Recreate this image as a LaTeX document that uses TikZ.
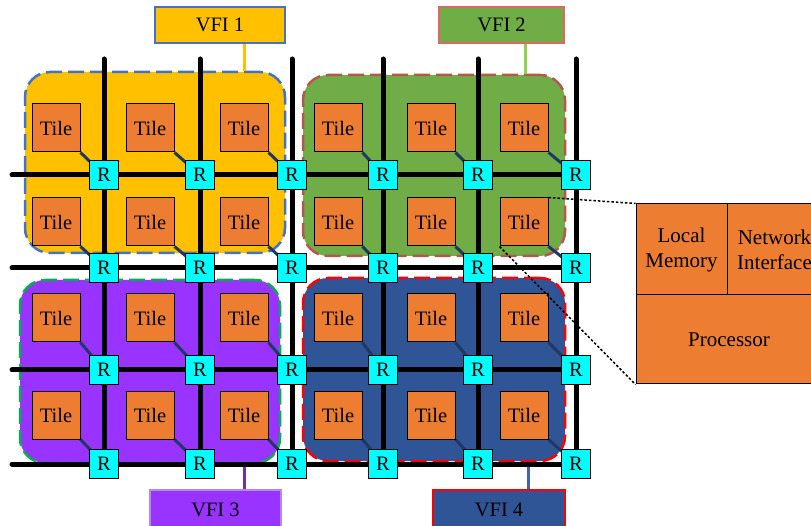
\documentclass[tikz,border=0pt]{standalone}
\usepackage{fontspec}
\setmainfont{Liberation Serif}
\pgfdeclarelayer{regions}
\pgfdeclarelayer{lines}
\pgfsetlayers{regions,lines,main}
\definecolor{tileorange}{HTML}{ED7D31}
\definecolor{vfiyellow}{HTML}{FFC000}
\definecolor{vfigreen}{HTML}{70AD47}
\definecolor{vfipurple}{HTML}{9933FF}
\definecolor{vfiblue}{HTML}{2F5597}
\definecolor{edgeblue}{HTML}{4472C4}
\definecolor{edgebrown}{HTML}{B4574D}
\definecolor{edgegreen}{HTML}{00B050}
\definecolor{edgered}{HTML}{FF0000}
\definecolor{lblpink}{HTML}{E06666}
\definecolor{lbllav}{HTML}{B58AE6}
\definecolor{linkgreen}{HTML}{92D050}
\definecolor{linkpurple}{HTML}{7030A0}
\definecolor{linkblue}{HTML}{3F66A8}
\definecolor{tilelink}{HTML}{1F3864}
\definecolor{rcyan}{HTML}{00FFFF}
\tikzset{
  txt/.style={font=\fontsize{20.5}{24}\selectfont},
  tilebox/.style={txt, draw=black, line width=1pt, fill=tileorange, minimum size=48pt, inner sep=0pt},
  rtr/.style={txt, draw=black, line width=1pt, fill=rcyan, minimum size=29pt, inner sep=0pt},
  gridline/.style={line width=5pt, line cap=round, black},
  tlink/.style={line width=3pt, tilelink},
  region/.style={line width=2.5pt, dash pattern=on 16pt off 6pt, rounded corners=25pt, inner sep=0pt},
  vfilabel/.style={txt, line width=1.2pt, inner sep=0pt},
  vfilink/.style={line width=3pt},
  detail/.style={draw=black, line width=1pt, fill=tileorange, inner sep=0pt, align=center, font=\fontsize{21}{25}\selectfont},
  zoomline/.style={line width=1.5pt, dash pattern=on 2.5pt off 2pt, black}
}
\begin{document}
\begin{tikzpicture}[x=1pt,y=-1pt]
\useasboundingbox (0,0) rectangle (811,526);
% VFI regions
\begin{pgfonlayer}{regions}
\node[region, draw=edgeblue, fill=vfiyellow, minimum width=260pt, minimum height=181pt] (reg1) at (155,162.5) {};
\node[region, draw=edgebrown, fill=vfigreen, minimum width=262pt, minimum height=181pt] (reg2) at (434,165.5) {};
\node[region, draw=edgegreen, fill=vfipurple, minimum width=260pt, minimum height=183pt] (reg3) at (150,371.5) {};
\node[region, draw=edgered, fill=vfiblue, minimum width=262pt, minimum height=183pt] (reg4) at (434,369.5) {};
\end{pgfonlayer}
% routers
\foreach \y [count=\i] in {175,268,370,464} {
  \foreach \x [count=\j] in {104,200,292,383,478,576} {
    \node[rtr] (r\i\j) at (\x,\y) {R};
  }
}
% tiles
\foreach \y [count=\i] in {128,222,318,415} {
  \foreach \x [count=\j] in {56,150,244,338,431,524} {
    \node[tilebox] (t\i\j) at (\x,\y) {Tile};
  }
}
% grid end points
\foreach \x [count=\j] in {104,200,292,383,478,576} {
  \coordinate (top\j) at (\x,59);
}
\foreach \y [count=\i] in {175,268,370,464} {
  \coordinate (left\i) at (12,\y);
}
\begin{pgfonlayer}{lines}
\foreach \j in {1,...,6} { \draw[gridline] (top\j) -- (r4\j.center); }
\foreach \i in {1,...,4} { \draw[gridline] (left\i) -- (r\i6.center); }
\foreach \i in {1,...,4} {
  \foreach \j in {1,...,6} {
    \draw[tlink] (t\i\j.south east) -- (r\i\j.center);
  }
}
\end{pgfonlayer}
% VFI labels
\node[vfilabel, draw=edgeblue, fill=vfiyellow, minimum width=130pt, minimum height=36pt] (v1) at (220,25) {VFI 1};
\node[vfilabel, draw=lblpink, fill=vfigreen, minimum width=125pt, minimum height=36pt] (v2) at (501.5,25) {VFI 2};
\node[vfilabel, draw=lbllav, fill=vfipurple, minimum width=131pt, minimum height=40pt] (v3) at (215.5,510) {VFI 3};
\node[vfilabel, draw=edgered, fill=vfiblue, minimum width=132pt, minimum height=40pt] (v4) at (499,510) {VFI 4};
\coordinate (c1) at (244,0);
\coordinate (c2) at (525,0);
\coordinate (c3) at (244,0);
\coordinate (c4) at (528,0);
\begin{pgfonlayer}{regions}
\draw[vfilink, vfiyellow] (v1.south -| c1) -- (reg1.north -| c1);
\draw[vfilink, linkgreen] (v2.south -| c2) -- (reg2.north -| c2);
\draw[vfilink, linkpurple] (v3.north -| c3) -- (reg3.south -| c3);
\draw[vfilink, linkblue] (v4.north -| c4) -- (reg4.south -| c4);
\end{pgfonlayer}
% tile detail
\node[detail, minimum width=91pt, minimum height=91pt] (lm) at (681.5,249.5) {Local\\Memory};
\node[detail, minimum width=95pt, minimum height=91pt] (ni) at (774.5,249.5) {Network\\Interface};
\node[detail, minimum width=186pt, minimum height=89pt] (proc) at (729,339.5) {Processor};
\draw[zoomline] (t26.north east) -- (lm.north west);
\draw[zoomline] (t26.south west) -- (proc.south west);
\end{tikzpicture}
\end{document}
